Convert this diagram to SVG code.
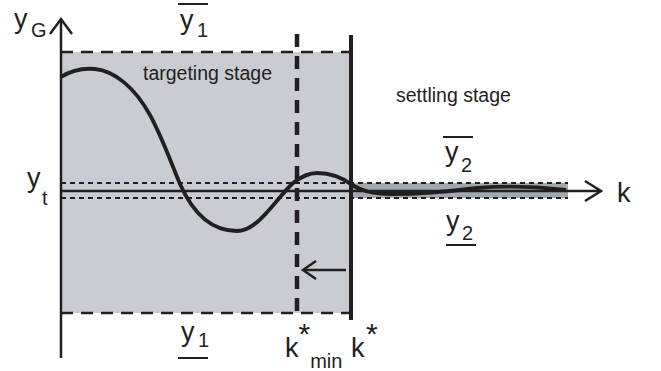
<svg xmlns="http://www.w3.org/2000/svg" width="661" height="371" viewBox="0 0 661 371">
<style>
.t{font-family:"Liberation Sans",Arial,sans-serif;fill:#231f20}
.big{font-size:27px}
.sub{font-size:20px}
.star{font-size:30px}
.lbl{font-size:19.5px}
.ax{stroke:#231f20;stroke-width:2.5;fill:none}
.head{stroke:#231f20;stroke-width:2.5;fill:none;stroke-linejoin:miter}
.bound{stroke:#231f20;stroke-width:2.5;stroke-dasharray:12 8;fill:none}
.band{stroke:#231f20;stroke-width:2.2;stroke-dasharray:5 4;fill:none}
</style>
<rect width="661" height="371" fill="#fff"/>
<g id="regions">
<rect x="61" y="52" width="290" height="261" fill="#c9ccd3"/>
<rect x="351" y="183" width="217" height="15" fill="#a2a8b0"/>
</g>
<g id="bounds">
<line class="bound" x1="61" y1="52" x2="349" y2="52"/>
<line class="bound" x1="61" y1="313" x2="349" y2="313"/>
<line class="band" x1="61" y1="183" x2="568" y2="183"/>
<line class="band" x1="61" y1="198" x2="568" y2="198"/>
</g>
<g id="connectors">
<line class="ax" x1="61" y1="20" x2="61" y2="358"/>
<polyline class="head" points="50,34 61,19 72,34"/>
<line class="ax" x1="61" y1="191" x2="601" y2="191"/>
<polyline class="head" points="585,181 601,191 585,201"/>
<line x1="297" y1="34" x2="297" y2="318" stroke="#231f20" stroke-width="4.5" stroke-dasharray="13 9"/>
<line x1="351" y1="35" x2="351" y2="320" stroke="#231f20" stroke-width="4"/>
<line class="ax" x1="346" y1="270" x2="304" y2="270"/>
<polyline class="head" points="316,261 303,270 316,279"/>
</g>
<g id="curve">
<path d="M61,77 C72,70 84,68 95,69 C115,71 135,88 150,115 C162,137 172,165 180,184 C195,218 215,231 237,231 C258,231 275,200 293,183 C302,176 310,173 317,173 C330,173 343,178 352,185 C362,191 372,194 392,194 C420,194 445,192 477,188 C510,185 540,187 566,190" fill="none" stroke="#231f20" stroke-width="3.8"/>
</g>
<g id="labels">
<text class="t big" x="14" y="28">y</text><text class="t sub" x="31" y="37">G</text>
<text class="t big" x="27" y="187">y</text><text class="t sub" x="42" y="205">t</text>
<text class="t big" x="180" y="29">y</text><text class="t sub" x="197" y="37">1</text>
<line x1="178" y1="4" x2="208" y2="4" stroke="#231f20" stroke-width="2"/>
<text class="t big" x="181" y="341">y</text><text class="t sub" x="198" y="347">1</text>
<line x1="178" y1="358" x2="208" y2="358" stroke="#231f20" stroke-width="2"/>
<text class="t big" x="445" y="161">y</text><text class="t sub" x="461" y="172">2</text>
<line x1="443" y1="137" x2="473" y2="137" stroke="#231f20" stroke-width="2"/>
<text class="t big" x="446" y="230">y</text><text class="t sub" x="462" y="240">2</text>
<line x1="446" y1="245" x2="476" y2="245" stroke="#231f20" stroke-width="2"/>
<text class="t lbl" x="143" y="80">targeting stage</text>
<text class="t lbl" x="396" y="102">settling stage</text>
<text class="t big" x="617" y="202">k</text>
<text class="t big" x="285" y="357">k<tspan class="star" dy="-13">*</tspan><tspan class="sub" dy="24">min</tspan></text>
<text class="t big" x="351" y="357">k<tspan class="star" dx="1.5" dy="-13">*</tspan></text>
</g>
</svg>
